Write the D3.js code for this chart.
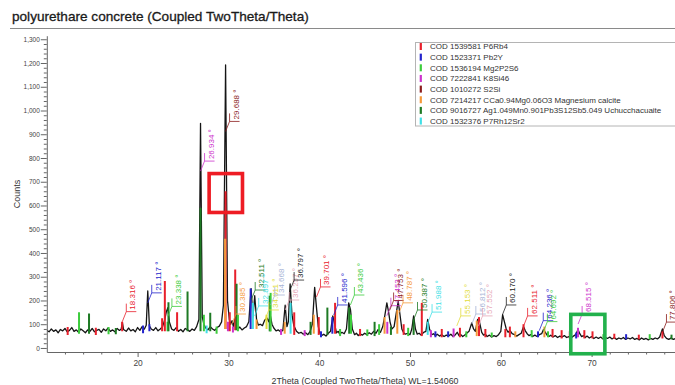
<!DOCTYPE html>
<html><head><meta charset="utf-8">
<script src="https://cdn.jsdelivr.net/npm/d3@7"></script>
<style>body{margin:0;background:#fff;} svg{display:block;font-family:"Liberation Sans",Arial,sans-serif;}</style>
</head><body><svg id="c" width="675" height="385"></svg>
<script>
const title = "polyurethare concrete (Coupled TwoTheta/Theta)";
const xTitle = "2Theta (Coupled TwoTheta/Theta) WL=1.54060";
const yTitle = "Counts";
const xTicksMajor = [20, 30, 40, 50, 60, 70];
const xTicksMinor = [12, 14, 16, 18, 22, 24, 26, 28, 32, 34, 36, 38, 42, 44, 46, 48, 52, 54, 56, 58, 62, 64, 66, 68, 72, 74, 76, 78];
const yTicksMajor = [0, 100, 200, 300, 400, 500, 600, 700, 800, 900, 1000, 1100, 1200, 1300];

const phaseNames = [
  "COD 1539581 P6Rb4",
  "COD 1523371 Pb2Y",
  "COD 1536194 Mg2P2S6",
  "COD 7222841 K8Si46",
  "COD 1010272 S2Si",
  "COD 7214217 CCa0.94Mg0.06O3 Magnesium calcite",
  "COD 9016727 Ag1.049Mn0.901Pb3S12Sb5.049 Uchucchacuaite",
  "COD 1532376 P7Rh12Sr2"
];
// colours of the phases (0-7) followed by extra peak-label colours (8-11)
const palette = ["#e8202c", "#2424cc", "#3ccc3c", "#cc33cc", "#8b1c1c", "#f5993a", "#1e7a24", "#3fdfe6",
                 "#e2dc3c", "#a6b4d6", "#e6a6b6", "#222222"];

// measured pattern [2theta, counts]
const pattern = [[10,74],[10.25,68],[10.5,80],[10.75,70],[11,76],[11.25,64],[11.5,78],[11.75,72],[12,82],[12.25,68],[12.5,74],[12.75,86],[13,70],[13.25,76],[13.5,66],[13.75,80],[14,72],[14.25,64],[14.5,76],[14.75,70],[15,82],[15.25,68],[15.5,74],[15.75,78],[16,66],[16.25,80],[16.5,72],[16.75,84],[17,70],[17.25,76],[17.5,68],[17.75,82],[18,74],[18.2,80],[18.32,108],[18.45,78],[18.75,70],[19,84],[19.25,72],[19.5,78],[19.75,68],[20,86],[20.25,74],[20.5,90],[20.75,80],[20.95,96],[21.12,240],[21.3,92],[21.5,80],[21.75,74],[22,86],[22.25,72],[22.5,80],[22.75,90],[23,120],[23.15,150],[23.34,170],[23.5,110],[23.75,80],[24,74],[24.25,86],[24.5,70],[24.75,78],[25,68],[25.25,82],[25.5,76],[25.75,70],[26,80],[26.25,74],[26.5,90],[26.75,120],[26.93,946],[27.12,130],[27.3,100],[27.5,84],[27.75,76],[28,90],[28.25,80],[28.5,74],[28.75,86],[29,92],[29.25,110],[29.45,180],[29.69,1192],[29.9,200],[30.1,120],[30.25,100],[30.4,115],[30.55,90],[30.75,130],[30.9,100],[31.1,82],[31.25,88],[31.5,76],[31.75,84],[32,90],[32.25,110],[32.5,250],[32.7,130],[32.9,220],[33.1,120],[33.3,96],[33.5,100],[33.75,94],[34,118],[34.25,126],[34.45,110],[34.6,140],[34.8,100],[35,84],[35.25,72],[35.5,76],[35.75,68],[36,74],[36.25,180],[36.45,90],[36.6,110],[36.8,270],[37,140],[37.2,95],[37.5,70],[37.75,62],[38,66],[38.25,58],[38.5,64],[38.75,56],[39,70],[39.25,100],[39.5,255],[39.7,170],[39.9,90],[40.1,60],[40.25,52],[40.5,58],[40.75,50],[41,62],[41.25,70],[41.5,135],[41.7,100],[41.9,64],[42.1,70],[42.25,58],[42.5,66],[42.75,60],[43,80],[43.25,190],[43.45,160],[43.65,80],[43.9,56],[44.1,62],[44.3,52],[44.5,60],[44.75,54],[45,62],[45.25,56],[45.5,64],[45.75,58],[46,70],[46.25,62],[46.5,78],[46.75,66],[47,90],[47.2,130],[47.45,190],[47.65,150],[47.8,110],[48,80],[48.25,90],[48.5,150],[48.7,196],[48.9,140],[49.1,80],[49.3,64],[49.5,58],[49.75,62],[50,56],[50.2,80],[50.4,135],[50.6,80],[50.8,58],[51,62],[51.25,54],[51.5,66],[51.75,70],[51.95,120],[52.15,80],[52.4,56],[52.6,60],[52.8,52],[53,58],[53.25,50],[53.5,56],[53.75,48],[54,54],[54.25,50],[54.5,58],[54.75,48],[55,56],[55.2,66],[55.4,52],[55.6,56],[55.8,48],[56,54],[56.25,62],[56.5,70],[56.8,105],[57,80],[57.2,70],[57.45,120],[57.65,110],[57.9,66],[58.1,54],[58.3,58],[58.5,48],[58.75,54],[59,46],[59.25,52],[59.5,48],[59.75,56],[60,70],[60.2,140],[60.4,110],[60.6,80],[60.8,66],[61,74],[61.25,60],[61.5,56],[61.75,50],[62,56],[62.25,62],[62.5,90],[62.7,72],[62.9,60],[63.1,52],[63.3,56],[63.5,48],[63.75,54],[64,48],[64.25,56],[64.5,60],[64.7,78],[64.9,66],[65.1,54],[65.3,48],[65.5,54],[65.75,46],[66,52],[66.25,44],[66.5,50],[66.75,46],[67,52],[67.25,44],[67.5,48],[67.75,42],[68,50],[68.25,56],[68.5,78],[68.7,60],[68.9,48],[69.1,52],[69.3,44],[69.5,50],[69.75,42],[70,48],[70.25,40],[70.5,46],[70.75,40],[71,46],[71.25,38],[71.5,44],[71.75,40],[72,46],[72.25,38],[72.5,44],[72.75,36],[73,42],[73.25,38],[73.5,44],[73.75,36],[74,42],[74.25,38],[74.5,44],[74.75,36],[75,40],[75.25,34],[75.5,42],[75.75,36],[76,40],[76.25,34],[76.5,40],[76.75,36],[77,42],[77.25,38],[77.5,46],[77.8,80],[78,52],[78.25,40],[78.5,36],[78.75,42],[79,36],[79.25,40],[79.5,34],[79.75,40],[80,36]];

// phase reference sticks [2theta, from counts, to counts, palette index]
const sticks = [[12.3,55,88,0],[13.55,60,150,2],[14.65,60,145,6],[15.4,55,85,0],[16.8,58,88,2],[17.6,58,84,6],[18.3,70,110,0],[20.6,62,95,1],[21.3,70,100,1],[22.7,70,125,0],[23.0,70,282,0],[23.3,70,110,2],[23.4,70,192,6],[24.35,70,150,0],[25.5,70,238,6],[26.93,70,590,6],[27.3,70,140,2],[27.6,62,95,7],[28.0,70,148,6],[28.7,60,90,2],[29.69,80,660,0],[29.64,80,460,5],[29.95,70,110,3],[30.15,70,150,0],[30.5,65,90,3],[30.75,75,330,0],[30.9,75,270,6],[31.05,70,140,2],[32.45,80,250,1],[32.7,80,190,7],[33.1,80,120,5],[34.2,80,140,8],[34.55,70,220,6],[34.65,70,232,2],[35.8,55,80,3],[36.2,60,110,5],[36.85,60,190,7],[37.25,55,150,0],[38.4,50,75,3],[39.05,55,110,6],[39.4,60,140,5],[39.95,55,130,0],[40.2,45,70,1],[40.9,55,170,6],[41.45,60,130,1],[41.75,60,190,0],[42.3,50,80,2],[43.3,60,170,6],[43.5,60,140,2],[44.5,50,80,0],[45.3,50,78,2],[46.1,50,110,6],[46.6,55,100,2],[47.2,60,130,5],[47.5,60,110,3],[47.9,55,90,6],[48.6,60,160,5],[49.3,55,100,0],[49.8,50,85,2],[50.4,55,120,6],[51.3,50,190,0],[51.95,55,110,7],[52.3,45,75,3],[52.8,45,70,1],[53.5,45,80,0],[54.2,45,70,1],[54.8,45,82,3],[55.5,45,85,0],[56.2,45,70,2],[57.35,50,115,5],[57.6,50,130,0],[58.3,45,80,0],[59.0,45,65,2],[60.5,45,80,0],[61.0,45,90,0],[61.6,45,70,5],[62.5,45,100,0],[63.4,45,75,2],[64.1,45,70,1],[64.8,45,90,5],[65.2,45,70,2],[65.7,45,80,0],[66.7,40,75,0],[67.6,40,70,0],[68.3,40,65,1],[68.5,45,85,3],[69.2,40,75,0],[70.1,40,70,0],[71.3,38,58,2],[72.5,38,60,0],[73.8,36,58,1],[75.2,36,56,0],[76.4,36,58,2],[77.8,40,70,0],[78.8,36,56,6]];

// peak labels [2theta, label level in counts]; colour cycles through palette
const peakLabels = [[18.316,153],[21.117,232],[23.338,175],[26.934,787],[29.688,954],[30.385,143],[32.511,244],[32.897,177],[34.011,160],[34.668,223],[36.257,202],[36.797,286],[39.701,257],[41.596,181],[43.436,223],[47.453,178],[47.753,200],[48.787,190],[50.387,160],[51.988,151],[55.153,135],[56.812,143],[57.552,135],[60.170,181],[62.511,135],[64.236,115],[64.692,111],[68.515,143],[77.806,109]];

// highlight boxes [2theta from, 2theta to, counts low, counts high]
const highlightBoxes = [[27.68, 31.75, 563, 742], [67.51, 71.66, -32, 149]];
const highlightColors = ["#ee1c24", "#22b14c"];

const svg = d3.select("#c");
const x = d3.scaleLinear().domain([10, 80]).range([46.8, 682.4]);
const y = d3.scaleLinear().domain([-17, 1315]).range([352, 35.7]);

// title
svg.append("text").attr("x", 12).attr("y", 21).attr("font-size", 13.6).attr("fill", "#1a1a1a")
  .attr("stroke", "#1a1a1a").attr("stroke-width", 0.3).text(title);
svg.append("line").attr("x1", 10).attr("x2", 675).attr("y1", 28.5).attr("y2", 28.5).attr("stroke", "#8a8a8a").attr("stroke-width", 1);

svg.append("clipPath").attr("id", "plotclip").append("rect")
  .attr("x", x(10)).attr("y", 30).attr("width", 675 - x(10)).attr("height", y(-17) - 30);
const plot = svg.append("g").attr("clip-path", "url(#plotclip)");

plot.append("path").datum(pattern)
  .attr("d", d3.line().x(d => x(d[0])).y(d => y(d[1])))
  .attr("fill", "none").attr("stroke", "#151515").attr("stroke-width", 1.3).attr("stroke-linejoin", "round");

plot.selectAll("line.stick").data(sticks).join("line").attr("class", "stick")
  .attr("x1", d => x(d[0])).attr("x2", d => x(d[0]))
  .attr("y1", d => y(d[1])).attr("y2", d => y(d[2]))
  .attr("stroke", d => palette[d[3]]).attr("stroke-width", 2);

// peak labels
const lab = svg.append("g");
peakLabels.forEach((d, i) => {
  const c = palette[i % palette.length];
  const x0 = x(d[0]), y0 = y(d[1]);
  lab.append("path")
    .attr("d", `M${x0},${y0 + 10}L${x0 + 4},${y0}L${x0 + 14},${y0}M${x0 + 4},${y0}L${x0 + 4},${y0 - 8}`)
    .attr("fill", "none").attr("stroke", c).attr("stroke-width", 0.8);
  lab.append("text").attr("transform", `translate(${Math.min(x0 + 13, 674.5)},${y0 - 2}) rotate(-90)`)
    .attr("font-size", 8).attr("fill", c).text(d3.format(".3f")(d[0]) + " °");
});

// axes
const yAxis = svg.append("g").attr("transform", `translate(${x(10)},0)`)
  .call(d3.axisLeft(y).tickValues(yTicksMajor).tickFormat(d3.format(",")).tickSize(6).tickSizeOuter(0).tickPadding(1));
const yMinor = d3.range(20, 1300, 20).filter(v => v % 100 !== 0);
svg.append("g").attr("transform", `translate(${x(10)},0)`)
  .call(d3.axisLeft(y).tickValues(yMinor).tickFormat("").tickSize(3).tickSizeOuter(0))
  .call(g => g.select(".domain").remove());
yAxis.selectAll("text").attr("font-size", 6.5).attr("fill", "#444").attr("font-family", "Liberation Sans, Arial, sans-serif");

const xAxis = svg.append("g").attr("transform", `translate(0,${y(-17)})`)
  .call(d3.axisBottom(x).tickValues(xTicksMajor).tickSize(5).tickSizeOuter(0).tickPadding(3));
svg.append("g").attr("transform", `translate(0,${y(-17)})`)
  .call(d3.axisBottom(x).tickValues(xTicksMinor).tickFormat("").tickSize(2.5).tickSizeOuter(0))
  .call(g => g.select(".domain").remove());
xAxis.selectAll("text").attr("font-size", 8.4).attr("fill", "#444").attr("font-family", "Liberation Sans, Arial, sans-serif");
svg.selectAll(".domain, .tick line").attr("stroke", "#666");

svg.append("text").attr("x", 365).attr("y", 384).attr("text-anchor", "middle").attr("font-size", 8.8).attr("fill", "#333").text(xTitle);
svg.append("text").attr("transform", "translate(19.5,194) rotate(-90)").attr("text-anchor", "middle")
  .attr("font-size", 9).attr("fill", "#333").text(yTitle);

// legend
const leg = svg.append("g");
leg.append("rect").attr("x", 415.5).attr("y", 42.5).attr("width", 262).attr("height", 83.5)
  .attr("fill", "#fff").attr("stroke", "#b4b4b4").attr("stroke-width", 1);
phaseNames.forEach((n, i) => {
  const cy = 46.5 + i * 10.65;
  leg.append("rect").attr("x", 419.7).attr("y", cy - 3.5).attr("width", 2.2).attr("height", 7).attr("fill", palette[i]);
  leg.append("text").attr("x", 430).attr("y", cy + 2.9).attr("font-size", 8).attr("fill", "#333").text(n);
});

// highlight boxes
const hw = 3.6;
svg.selectAll("rect.hl").data(highlightBoxes).join("rect").attr("class", "hl")
  .attr("x", d => x(d[0]) + hw / 2).attr("y", d => y(d[3]) + hw / 2)
  .attr("width", d => x(d[1]) - x(d[0]) - hw).attr("height", d => y(d[2]) - y(d[3]) - hw)
  .attr("fill", "none").attr("stroke", (d, i) => highlightColors[i]).attr("stroke-width", hw);
</script></body></html>
